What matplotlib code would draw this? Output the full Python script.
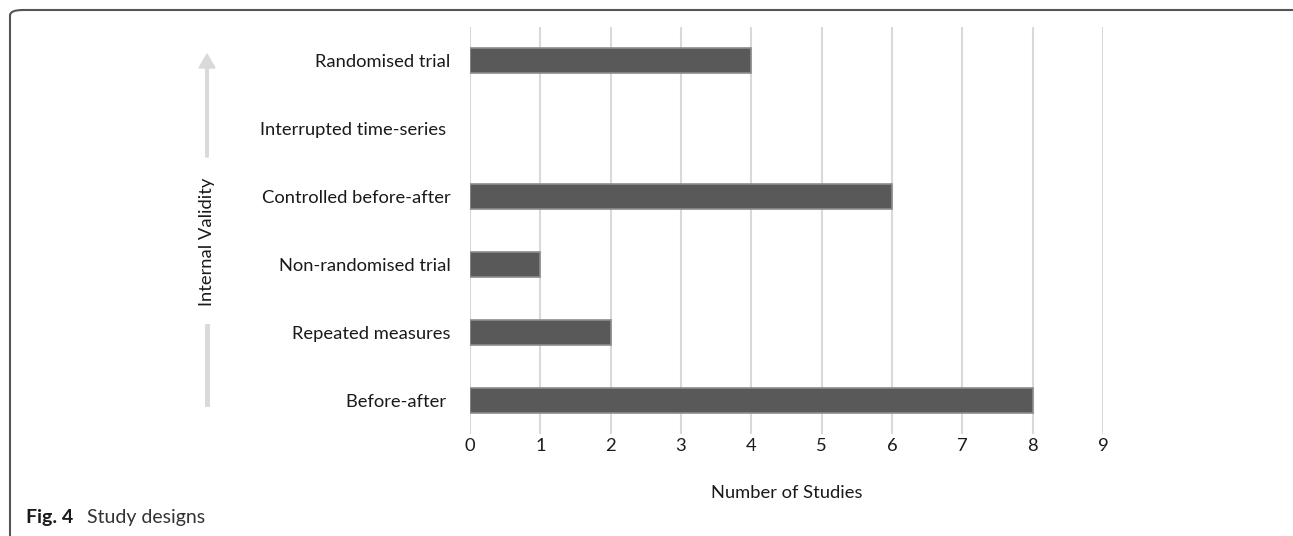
import matplotlib
matplotlib.use("Agg")
import matplotlib.pyplot as plt
from matplotlib.patches import FancyBboxPatch, FancyArrow

plt.rcParams['font.family'] = ['Lato', 'DejaVu Sans']

designs = ["Before-after ", "Repeated measures", "Non-randomised trial",
           "Controlled before-after", "Interrupted time-series ", "Randomised trial"]
n_studies = [8, 2, 1, 6, 0, 4]
x_ticks = list(range(0, 10))

fs = 13.2
fig = plt.figure(figsize=(12.93, 5.36), dpi=100)
ax = fig.add_axes([470 / 1293, 1 - 434 / 536, 633 / 1293, 407 / 536])

ypos = list(range(len(designs)))
edges = ["#8c8c8c" if v > 0 else "none" for v in n_studies]
ax.barh(ypos, n_studies, height=0.37, color="#595959", edgecolor=edges, linewidth=1.2, zorder=3)
ax.set_xlim(0, 9)
ax.set_ylim(-0.5, len(designs) - 0.5)
ax.set_yticks(ypos)
ax.set_yticklabels(designs, fontsize=fs, color="#1a1a1a")
ax.set_xticks(x_ticks)
ax.set_xticklabels([str(t) for t in x_ticks], fontsize=fs, color="#1a1a1a")
ax.tick_params(axis="y", length=0, pad=14)
ax.tick_params(axis="x", length=0, pad=3)
ax.grid(axis="x", color="#d9d9d9", linewidth=1.5, zorder=0)
for s in ax.spines.values():
    s.set_visible(False)
ax.set_xlabel("Number of Studies", fontsize=fs, color="#1a1a1a", labelpad=22)

# Internal validity arrow, broken around the label
line_x = 207 / 1293
fig.add_artist(plt.Line2D([line_x, line_x], [1 - 404 / 536, 1 - 326 / 536],
                          color="#d9d9d9", linewidth=3.5, transform=fig.transFigure))
fig.add_artist(FancyArrow(line_x, 1 - 157 / 536, 0, (157 - 54) / 536, width=3.5 / 536 * 0.3,
                          head_width=16 / 1293, head_length=14 / 536, length_includes_head=True,
                          color="#d9d9d9", transform=fig.transFigure))
fig.text(line_x, 1 - 242 / 536, "Internal Validity", rotation=90, ha="center", va="center",
         fontsize=fs, color="#1a1a1a")

# Frame (rounded, right edge outside the image)
frame = FancyBboxPatch((10 / 1293, -0.05), (1310 - 10) / 1293, 1 - 10 / 536 + 0.05,
                       boxstyle="round,pad=0,rounding_size=0.01", transform=fig.transFigure,
                       fill=False, edgecolor="#555555", linewidth=1.5, clip_on=False)
fig.add_artist(frame)

fig.text(26 / 1293, 1 - 518 / 536, "Fig. 4", fontsize=14, fontweight="bold", va="center", color="#1a1a1a")
fig.text(87 / 1293, 1 - 518 / 536, "Study designs", fontsize=14, va="center", color="#333333")

fig.savefig("out.png", dpi=100)
